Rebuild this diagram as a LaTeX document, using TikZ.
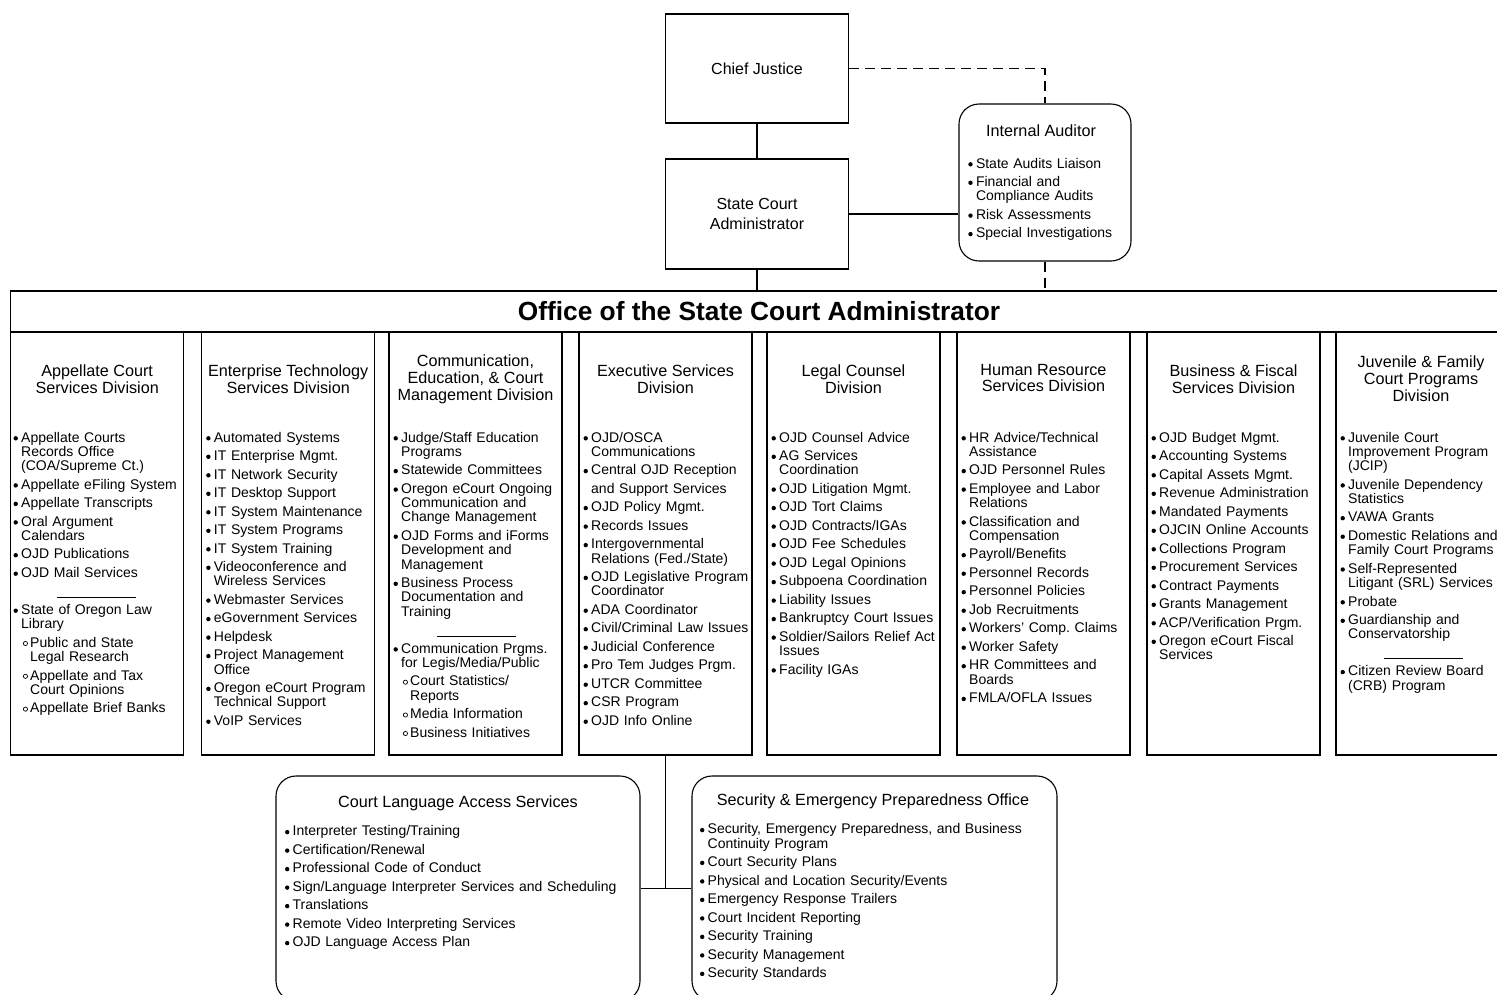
\documentclass[tikz,border=0pt]{standalone}
\usepackage{fontspec}
\setmainfont{Liberation Sans}
\usetikzlibrary{calc}
\frenchspacing
\newcommand\bul{\makebox[12pt][l]{\hspace{4.3pt}\tikz[baseline=-3.7pt]\fill (0,0) circle (2.2pt);}}
\newcommand\bcont{\hspace*{12pt}}
\newcommand\sbul{\makebox[21pt][l]{\hspace{13.8pt}\tikz[baseline=-3.7pt]\draw[line width=0.7pt] (0,0) circle (2.1pt);}}
\newcommand\scont{\hspace*{21pt}}
\newcommand\sepline{\hspace*{47.5pt}\rule[-1.8pt]{79pt}{0.9pt}}
\newcommand\gap{\\[4.2pt]}
\begin{document}
\begin{tikzpicture}[x=1pt,y=-1pt,line width=1.1pt,
  box/.style={draw,rectangle,inner sep=0pt},
  rbox/.style={draw,rectangle,rounded corners=20pt,inner sep=0pt},
  col/.style={box,minimum width=173pt,minimum height=423pt},
  ttl/.style={align=center,font=\fontsize{16.2}{16.8}\selectfont,inner sep=0pt},
  lst/.style={anchor=base west,text width=400pt,align=left,inner sep=0pt,font=\fontsize{14}{14.3}\selectfont},
  link/.style={line width=1.1pt},
  dlink/.style={line width=1.1pt,dash pattern=on 10pt off 6pt}]
\useasboundingbox (0,0) rectangle (1497,994);
\clip (0,0) rectangle (1497,994);

% top
\node[box,minimum width=183pt,minimum height=109pt,font=\fontsize{16}{18}\selectfont] (cj) at (757,68.5) {Chief Justice};
\node[box,minimum width=183pt,minimum height=110pt,align=center,font=\fontsize{16}{20}\selectfont] (sca) at (757,214) {State Court\\Administrator};
\node[rbox,minimum width=172pt,minimum height=157pt] (ia) at (1045,182.5) {};
\node[ttl] (iat) at (1041,131) {Internal Auditor};
\node[lst] (ial) at (963.8,168) {\bul State Audits Liaison\gap
\bul Financial and\\ \bcont Compliance Audits\gap
\bul Risk Assessments\gap
\bul Special Investigations};

% banner
\node[box,minimum width=1499.3pt,minimum height=41pt] (ban) at (760.35,311.5) {};
\node[font=\fontsize{26.3}{30}\selectfont\bfseries,inner sep=0pt] (bant) at (759,311) {Office of the State Court Administrator};

% columns
\node[col] (c1) at (97.2,543.5) {};
\node[col] (c2) at (288.2,543.5) {};
\node[col] (c3) at (475.5,543.5) {};
\node[col] (c4) at (665.5,543.5) {};
\node[col] (c5) at (853.5,543.5) {};
\node[col] (c6) at (1043.5,543.5) {};
\node[col] (c7) at (1233.5,543.5) {};
\node[col] (c8) at (1422.5,543.5) {};

\node[ttl] (t1) at (97.2,379.5) {Appellate Court\\Services Division};
\node[ttl] (t2) at (288.2,379.5) {Enterprise Technology\\Services Division};
\node[ttl] (t3) at (475.5,379.5) {Communication,\\Education, \& Court\\Management Division};
\node[ttl] (t4) at (665.5,379) {Executive Services\\Division};
\node[ttl] (t5) at (853.5,379) {Legal Counsel\\Division};
\node[ttl] (t6) at (1043.5,378) {Human Resource\\Services Division};
\node[ttl] (t7) at (1233.5,379) {Business \& Fiscal\\Services Division};
\node[ttl] (t8) at (1421,378.5) {Juvenile \& Family\\Court Programs\\Division};

\node[lst] (l1) at (9,442) {\bul Appellate Courts\\ \bcont Records Office\\ \bcont (COA/Supreme Ct.)\gap
\bul Appellate eFiling System\gap
\bul Appellate Transcripts\gap
\bul Oral Argument\\ \bcont Calendars\gap
\bul OJD Publications\gap
\bul OJD Mail Services\gap
\sepline\gap
\bul State of Oregon Law\\ \bcont Library\gap
\sbul Public and State\\ \scont Legal Research\gap
\sbul Appellate and Tax\\ \scont Court Opinions\gap
\sbul Appellate Brief Banks};

\node[lst] (l2) at (201.7,442) {\bul Automated Systems\gap
\bul IT Enterprise Mgmt.\gap
\bul IT Network Security\gap
\bul IT Desktop Support\gap
\bul IT System Maintenance\gap
\bul IT System Programs\gap
\bul IT System Training\gap
\bul Videoconference and\\ \bcont Wireless Services\gap
\bul Webmaster Services\gap
\bul eGovernment Services\gap
\bul Helpdesk\gap
\bul Project Management\\ \bcont Office\gap
\bul Oregon eCourt Program\\ \bcont Technical Support\gap
\bul VoIP Services};

\node[lst] (l3) at (389,442) {\bul Judge/Staff Education\\ \bcont Programs\gap
\bul Statewide Committees\gap
\bul Oregon eCourt Ongoing\\ \bcont Communication and\\ \bcont Change Management\gap
\bul OJD Forms and iForms\\ \bcont Development and\\ \bcont Management\gap
\bul Business Process\\ \bcont Documentation and\\ \bcont Training\gap
\sepline\gap
\bul Communication Prgms.\\ \bcont for Legis/Media/Public\gap
\sbul Court Statistics/\\ \scont Reports\gap
\sbul Media Information\gap
\sbul Business Initiatives};

\node[lst] (l4) at (579,442) {\bul OJD/OSCA\\ \bcont Communications\gap
\bul Central OJD Reception\gap
\bcont and Support Services\gap
\bul OJD Policy Mgmt.\gap
\bul Records Issues\gap
\bul Intergovernmental\\ \bcont Relations (Fed./State)\gap
\bul OJD Legislative Program\\ \bcont Coordinator\gap
\bul ADA Coordinator\gap
\bul Civil/Criminal Law Issues\gap
\bul Judicial Conference\gap
\bul Pro Tem Judges Prgm.\gap
\bul UTCR Committee\gap
\bul CSR Program\gap
\bul OJD Info Online};

\node[lst] (l5) at (767,442) {\bul OJD Counsel Advice\gap
\bul AG Services\\ \bcont Coordination\gap
\bul OJD Litigation Mgmt.\gap
\bul OJD Tort Claims\gap
\bul OJD Contracts/IGAs\gap
\bul OJD Fee Schedules\gap
\bul OJD Legal Opinions\gap
\bul Subpoena Coordination\gap
\bul Liability Issues\gap
\bul Bankruptcy Court Issues\gap
\bul Soldier/Sailors Relief Act\\ \bcont Issues\gap
\bul Facility IGAs};

\node[lst] (l6) at (957,442) {\bul HR Advice/Technical\\ \bcont Assistance\gap
\bul OJD Personnel Rules\gap
\bul Employee and Labor\\ \bcont Relations\gap
\bul Classification and\\ \bcont Compensation\gap
\bul Payroll/Benefits\gap
\bul Personnel Records\gap
\bul Personnel Policies\gap
\bul Job Recruitments\gap
\bul Workers’ Comp. Claims\gap
\bul Worker Safety\gap
\bul HR Committees and\\ \bcont Boards\gap
\bul FMLA/OFLA Issues};

\node[lst] (l7) at (1147,442) {\bul OJD Budget Mgmt.\gap
\bul Accounting Systems\gap
\bul Capital Assets Mgmt.\gap
\bul Revenue Administration\gap
\bul Mandated Payments\gap
\bul OJCIN Online Accounts\gap
\bul Collections Program\gap
\bul Procurement Services\gap
\bul Contract Payments\gap
\bul Grants Management\gap
\bul ACP/Verification Prgm.\gap
\bul Oregon eCourt Fiscal\\ \bcont Services};

\node[lst] (l8) at (1336,442) {\bul Juvenile Court\\ \bcont Improvement Program\\ \bcont (JCIP)\gap
\bul Juvenile Dependency\\ \bcont Statistics\gap
\bul VAWA Grants\gap
\bul Domestic Relations and\\ \bcont Family Court Programs\gap
\bul Self-Represented\\ \bcont Litigant (SRL) Services\gap
\bul Probate\gap
\bul Guardianship and\\ \bcont Conservatorship\gap
\sepline\gap
\bul Citizen Review Board\\ \bcont (CRB) Program};

% bottom boxes
\node[rbox,minimum width=364pt,minimum height=225pt] (clas) at (458,888.5) {};
\node[ttl] (clast) at (458,803) {Court Language Access Services};
\node[lst] (clasl) at (280.5,835.8) {\bul Interpreter Testing/Training\gap
\bul Certification/Renewal\gap
\bul Professional Code of Conduct\gap
\bul Sign/Language Interpreter Services and Scheduling\gap
\bul Translations\gap
\bul Remote Video Interpreting Services\gap
\bul OJD Language Access Plan};

\node[rbox,minimum width=365pt,minimum height=225pt] (sepo) at (874.5,888.5) {};
\node[ttl] (sepot) at (873,801) {Security \& Emergency Preparedness Office};
\node[lst] (sepol) at (695.5,833.8) {\bul Security, Emergency Preparedness, and Business\\ \bcont Continuity Program\gap
\bul Court Security Plans\gap
\bul Physical and Location Security/Events\gap
\bul Emergency Response Trailers\gap
\bul Court Incident Reporting\gap
\bul Security Training\gap
\bul Security Management\gap
\bul Security Standards};

% connectors
\draw[link] (cj) -- (sca);
\draw[link] (sca.south) -- (sca.south |- ban.north);
\draw[link] (sca.east) -- (sca.east -| ia.west);
\draw[dlink] (cj.east) -| (ia.north);
\draw[dlink] (ia.south) -- (ia.south |- ban.north);
\draw[link] (c4.south) -- (c4.south |- clas.east);
\draw[link] (clas.east) -- (sepo.west);
\end{tikzpicture}
\end{document}
